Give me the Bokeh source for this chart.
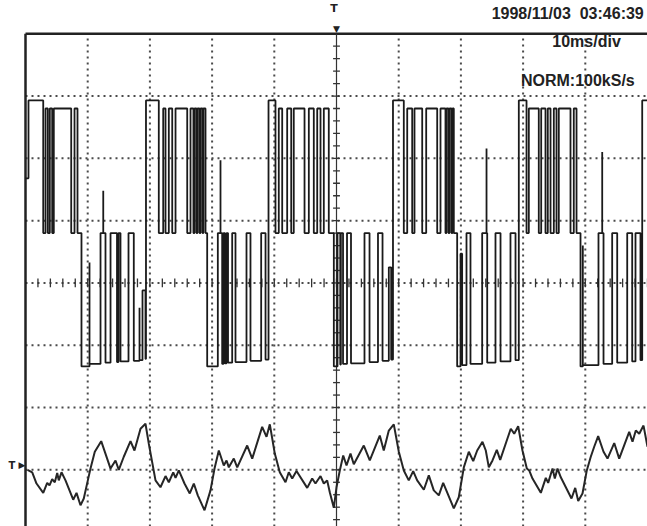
import numpy as np
from bokeh.plotting import figure
from bokeh.models import Range1d, Label
from bokeh.embed import file_html
from bokeh.resources import INLINE

# ---------------- data (time in ms, amplitude in divisions) ----------------
# Channel 1: PWM line voltage, step transitions (time, level after transition)
pwm_t = [
    0.0, 0.48,
    2.85, 3.22, 3.59, 3.91, 4.29, 4.55, 7.35, 7.88, 8.36, 9.0,
    10.29, 10.29, 12.06, 12.5, 12.5, 12.86, 13.67, 14.71, 14.95, 15.27, 16.56, 17.41, 18.33, 18.33, 18.81, 19.29, 19.37,
    21.43, 22.14, 22.51, 23.04, 23.59, 24.12, 26.0, 26.53, 27.0, 27.17, 27.49, 27.65, 27.97, 28.14, 28.46, 28.6, 28.94, 29.21,
    30.92, 31.35, 31.35, 31.62, 31.83, 32.07, 32.32, 32.56, 33.23, 33.76, 35.53, 36.17, 37.89, 38.59, 39.07,
    40.19, 40.72, 41.27, 42.07, 42.72, 43.13, 44.86, 45.55, 46.35, 46.9, 47.43, 47.96, 48.76, 49.57,
    50.16, 50.6, 50.7, 51.05, 51.69, 52.33, 54.5, 55.31, 56.67, 57.4, 58.41, 58.79, 59.08,
    60.82, 61.37, 62.17, 62.54, 63.78, 64.42, 66.19, 66.72, 67.52, 67.68, 68.0, 68.17, 68.49, 68.65, 68.86, 69.4,
    69.94, 70.2, 70.9, 71.54, 73.42, 74.12, 74.12, 74.23, 75.56, 76.37, 77.97, 78.78, 79.31,
    80.55, 80.92, 82.52, 82.91, 83.6, 83.97, 84.41, 84.94, 85.37, 85.74, 87.62, 88.15, 88.59, 89.23,
    89.6, 89.6, 92.12, 92.72, 92.72, 92.93, 94.32, 95.13, 96.74, 97.54, 98.07, 98.87, 99.15, 100.0,
]
pwm_v = [
    1.68, 2.93,
    0.8, 2.8, 0.8, 2.8, 0.8, 2.8, 0.8, 2.8, 0.8, -1.34,
    0.33, -1.3, 0.8, 1.48, 0.8, -1.28, 0.8, -1.27, 0.8, -1.26, 0.8, -1.25, -0.4, -1.24, -0.12, -1.22, 2.93,
    0.8, 2.8, 0.8, 2.8, 0.8, 2.8, 0.8, 2.8, 0.8, 2.8, 0.8, 2.8, 0.8, 2.8, 0.8, 2.8, 0.8, -1.34,
    0.8, 1.97, 0.8, -1.3, 0.8, -1.29, 0.8, -1.28, 0.8, -1.27, 0.8, -1.25, 0.8, -1.23, 2.93,
    0.8, 2.8, 0.8, 2.8, 0.8, 2.8, 0.8, 2.8, 0.8, 2.8, 0.8, 2.8, 0.8, -1.34,
    0.8, -1.31, 0.8, -1.3, 0.8, -1.29, 0.8, -1.27, 0.8, -1.25, 0.25, -1.23, 2.93,
    0.8, 2.8, 0.8, 2.8, 0.8, 2.8, 0.8, 2.8, 0.8, 2.8, 0.8, 2.8, 0.8, 2.8, 0.8, -1.34,
    0.47, -1.32, 0.8, -1.3, 0.8, 2.16, 0.8, -1.28, 0.8, -1.26, 0.8, -1.24, 2.93,
    0.8, 2.8, 0.8, 2.8, 0.8, 2.8, 0.8, 2.8, 0.8, 2.8, 0.8, 2.8, 0.8, -1.34,
    0.6, -1.32, 0.8, 2.1, 0.8, -1.3, 0.8, -1.28, 0.8, -1.26, 0.8, -1.24, 2.93, 2.93,
]

# Channel 2: motor current (divisions relative to its own ground marker)
cur_t = [0.32, 1.08, 1.77, 2.85, 3.49, 3.86, 4.29, 4.71, 5.10, 5.35,
         5.79, 6.43, 7.67, 8.20, 8.84, 9.37, 10.02, 10.45, 11.14, 12.17,
         13.67, 14.47, 15.0, 15.80, 16.88, 17.52, 18.49, 19.29, 19.82, 20.90,
         21.70, 22.51, 23.04, 23.75, 24.12, 24.65, 25.56, 26.41, 27.06, 27.70,
         28.78, 29.74, 30.39, 31.08, 31.88, 32.32, 32.69, 33.49, 34.04, 35.64,
         36.45, 38.05, 38.75, 39.28, 40.08, 40.88, 41.80, 42.33, 42.88, 43.57,
         45.29, 46.09, 46.62, 47.43, 47.96, 48.50, 48.92, 49.57, 50.0, 50.53,
         51.08, 51.61, 52.25, 52.78, 54.39, 55.35, 56.96, 57.60, 58.41, 59.21,
         60.02, 60.82, 61.62, 62.33, 62.97, 64.04, 64.84, 65.64, 66.45, 67.15,
         68.86, 69.66, 70.47, 71.27, 71.98, 72.62, 73.47, 74.00, 74.49, 75.08,
         75.77, 76.32, 78.02, 78.57, 79.21, 79.90, 80.60, 80.98, 81.51, 82.85,
         83.65, 84.03, 84.73, 85.10, 85.53, 86.06, 87.78, 88.38, 88.86, 89.55,
         90.24, 90.88, 91.43, 92.07, 92.93, 93.57, 94.65, 95.45, 97.06, 97.59,
         98.12, 98.67, 99.36, 100.0]
cur_v = [0.0, -0.04, -0.22, -0.37, -0.21, -0.25, -0.15, -0.20, -0.05, -0.17,
         -0.04, -0.17, -0.48, -0.37, -0.57, -0.46, -0.17, 0.02, 0.29, 0.46,
         0.02, 0.15, 0.0, 0.21, 0.46, 0.31, 0.66, 0.74, 0.42, -0.17,
         -0.28, -0.10, -0.20, -0.04, -0.13, -0.01, -0.22, -0.38, -0.22, -0.41,
         -0.65, -0.33, 0.02, 0.31, 0.07, 0.15, 0.04, 0.18, 0.04, 0.39,
         0.18, 0.69, 0.53, 0.73, 0.26, -0.04, -0.20, -0.04, -0.14, -0.02,
         -0.29, -0.14, -0.22, -0.10, -0.22, -0.17, -0.36, -0.61, -0.28, -0.01,
         0.23, 0.07, 0.26, 0.09, 0.39, 0.15, 0.55, 0.31, 0.63, 0.73,
         0.29, -0.01, -0.17, -0.02, -0.17, -0.32, -0.09, -0.33, -0.41, -0.21,
         -0.62, -0.44, 0.04, 0.29, 0.14, 0.31, 0.45, 0.31, 0.04, 0.15,
         0.32, 0.16, 0.66, 0.58, 0.70, 0.31, 0.02, -0.01, -0.14, -0.37,
         -0.13, -0.21, 0.02, -0.14, 0.02, -0.12, -0.46, -0.29, -0.50, -0.38,
         -0.01, 0.21, 0.37, 0.54, 0.29, 0.18, 0.43, 0.18, 0.61, 0.45,
         0.63, 0.58, 0.71, 0.37]
ch2_ground = -3.0          # channel 2 ground marker (divisions)
trigger_time = 50.0       # trigger position (ms)

# graticule (screen: 0..100 ms, visible part of -4..+4 div)
grid_t = [10, 20, 30, 40, 60, 70, 80, 90]
grid_v = [-3, -2, -1, 0, 1, 2, 3]
screen_left, screen_right = 0.0, 100.0
screen_top, screen_bottom = 4.0, -3.91

date_text = "1998/11/03\u00a0\u00a003:46:39"
tdiv_text = "10ms/div"
rate_text = "NORM:100kS/s"

assert len(pwm_t) == len(pwm_v) and len(cur_t) == len(cur_v)

# ---------------- figure ----------------
p = figure(width=647, height=526, output_backend="svg", toolbar_location=None,
           x_range=Range1d(-4.02, 100.0), y_range=Range1d(screen_bottom, 4.534),
           min_border=0)
p.xaxis.visible = False
p.yaxis.visible = False
p.grid.visible = False
p.outline_line_color = None
p.background_fill_color = "white"
p.border_fill_color = "white"

GRID = "#4a4a4a"
# dotted graticule
p.segment(x0=grid_t, x1=grid_t, y0=screen_bottom, y1=screen_top,
          line_color=GRID, line_width=2, line_dash="2 4")
p.segment(x0=screen_left, x1=screen_right, y0=grid_v, y1=grid_v,
          line_color=GRID, line_width=2, line_dash="2 4")

# frame borders (left and top)
p.segment(x0=[screen_left, screen_left], x1=[screen_left, screen_right],
          y0=[screen_bottom, screen_top], y1=[screen_top, screen_top],
          line_color="#222", line_width=2.5)

# centre graticule lines with minor ticks
p.segment(x0=trigger_time, x1=trigger_time, y0=screen_bottom, y1=screen_top,
          line_color="#333", line_width=1.2)
vt = np.arange(-3.8, 4.0, 0.2)
p.segment(x0=trigger_time - 0.55, x1=trigger_time + 0.55, y0=vt, y1=vt, line_color="#333", line_width=1.3)
ht = np.arange(2.0, 100.1, 2.0)
p.segment(x0=ht, x1=ht, y0=-0.07, y1=0.07, line_color="#333", line_width=1.3)

# traces
p.step(pwm_t, pwm_v, mode="after", line_color="#1a1a1a", line_width=1.8)
p.line(cur_t, np.array(cur_v) + ch2_ground, line_color="#262626", line_width=2)

# texts
def lab(x, y, text, align="center", size="16px", bold=True, baseline="middle", font="Liberation Sans"):
    p.add_layout(Label(x=x, y=y, text=text, text_align=align, text_baseline=baseline,
                       text_font=font, text_font_style="bold" if bold else "normal",
                       text_font_size=size, text_color="#222"))

lab(99.4, 4.33, date_text, align="right")
lab(90.2, 3.88, tdiv_text)
lab(88.8, 3.25, rate_text)

# trigger markers
lab(trigger_time - 0.4, 4.40, "T", size="11px", font="DejaVu Sans")
lab(trigger_time, screen_top, "\u25BC", size="9px", bold=False, baseline="bottom", font="DejaVu Sans")
lab(-2.2, ch2_ground + 0.07, "T", size="10px", font="DejaVu Sans")
lab(0.0, ch2_ground + 0.07, "\u25B6", align="right", size="9px", bold=False, font="DejaVu Sans")

open("out.html", "w").write(file_html(p, INLINE))
